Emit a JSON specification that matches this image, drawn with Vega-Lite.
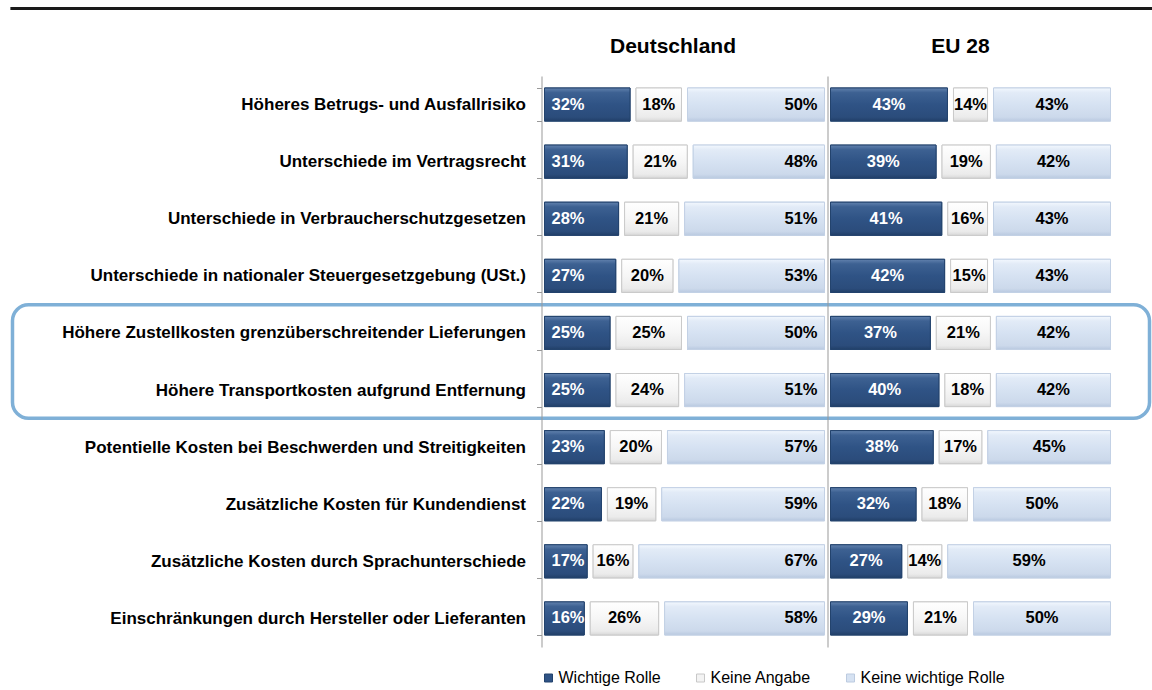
{
  "$schema": "https://vega.github.io/schema/vega-lite/v6.json",
  "padding": {"left": 8.5, "top": 7, "right": 0, "bottom": 0},
  "bounds": "flush",
  "spacing": 0,
  "background": "white",
  "config": {
    "view": {"stroke": null},
    "font": "Liberation Sans",
    "legend": {
      "orient": "none",
      "legendX": -1,
      "legendY": 594,
      "direction": "horizontal",
      "symbolType": "square",
      "symbolSize": 64,
      "symbolStrokeWidth": 1,
      "labelFontSize": 16,
      "labelFont": "Liberation Sans",
      "labelColor": "#000",
      "columnPadding": 31,
      "labelOffset": 2,
      "padding": 0
    }
  },
  "data": {
    "values": [
      {"Kategorie": "Höheres Betrugs- und Ausfallrisiko", "Region": "Deutschland", "Antwort": "Wichtige Rolle", "Rang": 1, "Wert": 0.32},
      {"Kategorie": "Höheres Betrugs- und Ausfallrisiko", "Region": "Deutschland", "Antwort": "Keine Angabe", "Rang": 2, "Wert": 0.18},
      {"Kategorie": "Höheres Betrugs- und Ausfallrisiko", "Region": "Deutschland", "Antwort": "Keine wichtige Rolle", "Rang": 3, "Wert": 0.50},
      {"Kategorie": "Unterschiede im Vertragsrecht", "Region": "Deutschland", "Antwort": "Wichtige Rolle", "Rang": 1, "Wert": 0.31},
      {"Kategorie": "Unterschiede im Vertragsrecht", "Region": "Deutschland", "Antwort": "Keine Angabe", "Rang": 2, "Wert": 0.21},
      {"Kategorie": "Unterschiede im Vertragsrecht", "Region": "Deutschland", "Antwort": "Keine wichtige Rolle", "Rang": 3, "Wert": 0.48},
      {"Kategorie": "Unterschiede in Verbraucherschutzgesetzen", "Region": "Deutschland", "Antwort": "Wichtige Rolle", "Rang": 1, "Wert": 0.28},
      {"Kategorie": "Unterschiede in Verbraucherschutzgesetzen", "Region": "Deutschland", "Antwort": "Keine Angabe", "Rang": 2, "Wert": 0.21},
      {"Kategorie": "Unterschiede in Verbraucherschutzgesetzen", "Region": "Deutschland", "Antwort": "Keine wichtige Rolle", "Rang": 3, "Wert": 0.51},
      {"Kategorie": "Unterschiede in nationaler Steuergesetzgebung (USt.)", "Region": "Deutschland", "Antwort": "Wichtige Rolle", "Rang": 1, "Wert": 0.27},
      {"Kategorie": "Unterschiede in nationaler Steuergesetzgebung (USt.)", "Region": "Deutschland", "Antwort": "Keine Angabe", "Rang": 2, "Wert": 0.20},
      {"Kategorie": "Unterschiede in nationaler Steuergesetzgebung (USt.)", "Region": "Deutschland", "Antwort": "Keine wichtige Rolle", "Rang": 3, "Wert": 0.53},
      {"Kategorie": "Höhere Zustellkosten grenzüberschreitender Lieferungen", "Region": "Deutschland", "Antwort": "Wichtige Rolle", "Rang": 1, "Wert": 0.25},
      {"Kategorie": "Höhere Zustellkosten grenzüberschreitender Lieferungen", "Region": "Deutschland", "Antwort": "Keine Angabe", "Rang": 2, "Wert": 0.25},
      {"Kategorie": "Höhere Zustellkosten grenzüberschreitender Lieferungen", "Region": "Deutschland", "Antwort": "Keine wichtige Rolle", "Rang": 3, "Wert": 0.50},
      {"Kategorie": "Höhere Transportkosten aufgrund Entfernung", "Region": "Deutschland", "Antwort": "Wichtige Rolle", "Rang": 1, "Wert": 0.25},
      {"Kategorie": "Höhere Transportkosten aufgrund Entfernung", "Region": "Deutschland", "Antwort": "Keine Angabe", "Rang": 2, "Wert": 0.24},
      {"Kategorie": "Höhere Transportkosten aufgrund Entfernung", "Region": "Deutschland", "Antwort": "Keine wichtige Rolle", "Rang": 3, "Wert": 0.51},
      {"Kategorie": "Potentielle Kosten bei Beschwerden und Streitigkeiten", "Region": "Deutschland", "Antwort": "Wichtige Rolle", "Rang": 1, "Wert": 0.23},
      {"Kategorie": "Potentielle Kosten bei Beschwerden und Streitigkeiten", "Region": "Deutschland", "Antwort": "Keine Angabe", "Rang": 2, "Wert": 0.20},
      {"Kategorie": "Potentielle Kosten bei Beschwerden und Streitigkeiten", "Region": "Deutschland", "Antwort": "Keine wichtige Rolle", "Rang": 3, "Wert": 0.57},
      {"Kategorie": "Zusätzliche Kosten für Kundendienst", "Region": "Deutschland", "Antwort": "Wichtige Rolle", "Rang": 1, "Wert": 0.22},
      {"Kategorie": "Zusätzliche Kosten für Kundendienst", "Region": "Deutschland", "Antwort": "Keine Angabe", "Rang": 2, "Wert": 0.19},
      {"Kategorie": "Zusätzliche Kosten für Kundendienst", "Region": "Deutschland", "Antwort": "Keine wichtige Rolle", "Rang": 3, "Wert": 0.59},
      {"Kategorie": "Zusätzliche Kosten durch Sprachunterschiede", "Region": "Deutschland", "Antwort": "Wichtige Rolle", "Rang": 1, "Wert": 0.17},
      {"Kategorie": "Zusätzliche Kosten durch Sprachunterschiede", "Region": "Deutschland", "Antwort": "Keine Angabe", "Rang": 2, "Wert": 0.16},
      {"Kategorie": "Zusätzliche Kosten durch Sprachunterschiede", "Region": "Deutschland", "Antwort": "Keine wichtige Rolle", "Rang": 3, "Wert": 0.67},
      {"Kategorie": "Einschränkungen durch Hersteller oder Lieferanten", "Region": "Deutschland", "Antwort": "Wichtige Rolle", "Rang": 1, "Wert": 0.16},
      {"Kategorie": "Einschränkungen durch Hersteller oder Lieferanten", "Region": "Deutschland", "Antwort": "Keine Angabe", "Rang": 2, "Wert": 0.26},
      {"Kategorie": "Einschränkungen durch Hersteller oder Lieferanten", "Region": "Deutschland", "Antwort": "Keine wichtige Rolle", "Rang": 3, "Wert": 0.58},
      {"Kategorie": "Höheres Betrugs- und Ausfallrisiko", "Region": "EU 28", "Antwort": "Wichtige Rolle", "Rang": 1, "Wert": 0.43},
      {"Kategorie": "Höheres Betrugs- und Ausfallrisiko", "Region": "EU 28", "Antwort": "Keine Angabe", "Rang": 2, "Wert": 0.14},
      {"Kategorie": "Höheres Betrugs- und Ausfallrisiko", "Region": "EU 28", "Antwort": "Keine wichtige Rolle", "Rang": 3, "Wert": 0.43},
      {"Kategorie": "Unterschiede im Vertragsrecht", "Region": "EU 28", "Antwort": "Wichtige Rolle", "Rang": 1, "Wert": 0.39},
      {"Kategorie": "Unterschiede im Vertragsrecht", "Region": "EU 28", "Antwort": "Keine Angabe", "Rang": 2, "Wert": 0.19},
      {"Kategorie": "Unterschiede im Vertragsrecht", "Region": "EU 28", "Antwort": "Keine wichtige Rolle", "Rang": 3, "Wert": 0.42},
      {"Kategorie": "Unterschiede in Verbraucherschutzgesetzen", "Region": "EU 28", "Antwort": "Wichtige Rolle", "Rang": 1, "Wert": 0.41},
      {"Kategorie": "Unterschiede in Verbraucherschutzgesetzen", "Region": "EU 28", "Antwort": "Keine Angabe", "Rang": 2, "Wert": 0.16},
      {"Kategorie": "Unterschiede in Verbraucherschutzgesetzen", "Region": "EU 28", "Antwort": "Keine wichtige Rolle", "Rang": 3, "Wert": 0.43},
      {"Kategorie": "Unterschiede in nationaler Steuergesetzgebung (USt.)", "Region": "EU 28", "Antwort": "Wichtige Rolle", "Rang": 1, "Wert": 0.42},
      {"Kategorie": "Unterschiede in nationaler Steuergesetzgebung (USt.)", "Region": "EU 28", "Antwort": "Keine Angabe", "Rang": 2, "Wert": 0.15},
      {"Kategorie": "Unterschiede in nationaler Steuergesetzgebung (USt.)", "Region": "EU 28", "Antwort": "Keine wichtige Rolle", "Rang": 3, "Wert": 0.43},
      {"Kategorie": "Höhere Zustellkosten grenzüberschreitender Lieferungen", "Region": "EU 28", "Antwort": "Wichtige Rolle", "Rang": 1, "Wert": 0.37},
      {"Kategorie": "Höhere Zustellkosten grenzüberschreitender Lieferungen", "Region": "EU 28", "Antwort": "Keine Angabe", "Rang": 2, "Wert": 0.21},
      {"Kategorie": "Höhere Zustellkosten grenzüberschreitender Lieferungen", "Region": "EU 28", "Antwort": "Keine wichtige Rolle", "Rang": 3, "Wert": 0.42},
      {"Kategorie": "Höhere Transportkosten aufgrund Entfernung", "Region": "EU 28", "Antwort": "Wichtige Rolle", "Rang": 1, "Wert": 0.40},
      {"Kategorie": "Höhere Transportkosten aufgrund Entfernung", "Region": "EU 28", "Antwort": "Keine Angabe", "Rang": 2, "Wert": 0.18},
      {"Kategorie": "Höhere Transportkosten aufgrund Entfernung", "Region": "EU 28", "Antwort": "Keine wichtige Rolle", "Rang": 3, "Wert": 0.42},
      {"Kategorie": "Potentielle Kosten bei Beschwerden und Streitigkeiten", "Region": "EU 28", "Antwort": "Wichtige Rolle", "Rang": 1, "Wert": 0.38},
      {"Kategorie": "Potentielle Kosten bei Beschwerden und Streitigkeiten", "Region": "EU 28", "Antwort": "Keine Angabe", "Rang": 2, "Wert": 0.17},
      {"Kategorie": "Potentielle Kosten bei Beschwerden und Streitigkeiten", "Region": "EU 28", "Antwort": "Keine wichtige Rolle", "Rang": 3, "Wert": 0.45},
      {"Kategorie": "Zusätzliche Kosten für Kundendienst", "Region": "EU 28", "Antwort": "Wichtige Rolle", "Rang": 1, "Wert": 0.32},
      {"Kategorie": "Zusätzliche Kosten für Kundendienst", "Region": "EU 28", "Antwort": "Keine Angabe", "Rang": 2, "Wert": 0.18},
      {"Kategorie": "Zusätzliche Kosten für Kundendienst", "Region": "EU 28", "Antwort": "Keine wichtige Rolle", "Rang": 3, "Wert": 0.50},
      {"Kategorie": "Zusätzliche Kosten durch Sprachunterschiede", "Region": "EU 28", "Antwort": "Wichtige Rolle", "Rang": 1, "Wert": 0.27},
      {"Kategorie": "Zusätzliche Kosten durch Sprachunterschiede", "Region": "EU 28", "Antwort": "Keine Angabe", "Rang": 2, "Wert": 0.14},
      {"Kategorie": "Zusätzliche Kosten durch Sprachunterschiede", "Region": "EU 28", "Antwort": "Keine wichtige Rolle", "Rang": 3, "Wert": 0.59},
      {"Kategorie": "Einschränkungen durch Hersteller oder Lieferanten", "Region": "EU 28", "Antwort": "Wichtige Rolle", "Rang": 1, "Wert": 0.29},
      {"Kategorie": "Einschränkungen durch Hersteller oder Lieferanten", "Region": "EU 28", "Antwort": "Keine Angabe", "Rang": 2, "Wert": 0.21},
      {"Kategorie": "Einschränkungen durch Hersteller oder Lieferanten", "Region": "EU 28", "Antwort": "Keine wichtige Rolle", "Rang": 3, "Wert": 0.50}
    ]
  },
  "hconcat": [
    {
      "width": 286,
      "height": 571,
      "layer": [
        {
          "data": {"values": [{}]},
          "mark": {"type": "rect", "fillOpacity": 0, "stroke": "#7FB0D7", "strokeWidth": 3.5, "cornerRadius": 16},
          "encoding": {
            "x": {"datum": -1.8497, "type": "quantitative", "scale": {"domain": [0, 1]}},
            "x2": {"datum": 2.1259},
            "y": {"datum": "Höhere Zustellkosten grenzüberschreitender Lieferungen", "type": "nominal", "bandPosition": -0.35, "title": null},
            "y2": {"datum": "Höhere Transportkosten aufgrund Entfernung", "bandPosition": 1.35}
          }
        },
        {
          "data": {"values": [{}]},
          "mark": {"type": "rule", "stroke": "#1a1a1a", "strokeWidth": 3},
          "encoding": {
            "x": {"datum": -1.857, "type": "quantitative", "scale": {"domain": [0, 1]}},
            "x2": {"datum": 2.2},
            "y": {"datum": "Höheres Betrugs- und Ausfallrisiko", "type": "nominal", "bandPosition": -2.4, "title": null}
          }
        },
        {
          "transform": [
            {"filter": {"field": "Region", "equal": "Deutschland"}},
            {"stack": "Wert", "groupby": ["Kategorie"], "sort": [{"field": "Rang", "order": "ascending"}], "as": ["x0", "x1"]}
          ],
          "layer": [
            {
              "mark": {"type": "bar", "xOffset": 3, "x2Offset": -3, "strokeWidth": 1},
              "encoding": {
                "x": {
                  "field": "x0", "type": "quantitative", "scale": {"domain": [0, 1]},
                  "axis": {"orient": "top", "title": "Deutschland", "labels": false, "ticks": false, "domain": false, "grid": false, "titleFontSize": 21, "titleFont": "Liberation Sans", "titleFontWeight": "bold", "titleColor": "#000", "titlePadding": 20, "titleX": 131, "minExtent": 0, "maxExtent": 0}
                },
                "x2": {"field": "x1"},
                "y": {
                  "field": "Kategorie", "type": "nominal", "title": null,
                  "scale": {
                    "domain": ["Höheres Betrugs- und Ausfallrisiko", "Unterschiede im Vertragsrecht", "Unterschiede in Verbraucherschutzgesetzen", "Unterschiede in nationaler Steuergesetzgebung (USt.)", "Höhere Zustellkosten grenzüberschreitender Lieferungen", "Höhere Transportkosten aufgrund Entfernung", "Potentielle Kosten bei Beschwerden und Streitigkeiten", "Zusätzliche Kosten für Kundendienst", "Zusätzliche Kosten durch Sprachunterschiede", "Einschränkungen durch Hersteller oder Lieferanten"],
                    "paddingInner": 0.42, "paddingOuter": 0.21
                  },
                  "axis": {"labelFontSize": 17, "labelFontWeight": "bold", "labelFont": "Liberation Sans", "labelColor": "#000", "labelPadding": 11, "labelLimit": 700, "tickBand": "extent", "tickSize": 5, "tickColor": "#999", "domainColor": "#999", "grid": false}
                },
                "color": {
                  "field": "Antwort", "type": "nominal", "title": null,
                  "scale": {"domain": ["Wichtige Rolle", "Keine Angabe", "Keine wichtige Rolle"], "range": ["#2F5385", "#F3F3F3", "#D6E2F2"]}
                },
                "stroke": {
                  "field": "Antwort", "type": "nominal", "title": null,
                  "scale": {"domain": ["Wichtige Rolle", "Keine Angabe", "Keine wichtige Rolle"], "range": ["#23436D", "#C8C8C8", "#BCCBE0"]}
                }
              }
            },
            {
              "transform": [{"filter": {"field": "Antwort", "equal": "Wichtige Rolle"}}],
              "mark": {"type": "bar", "xOffset": 3, "x2Offset": -3, "strokeWidth": 1, "stroke": "#23436D", "fill": {"gradient": "linear", "x1": 0, "y1": 0, "x2": 0, "y2": 1, "stops": [{"offset": 0, "color": "#6282AE"}, {"offset": 0.14, "color": "#3D6192"}, {"offset": 0.5, "color": "#2F5385"}, {"offset": 0.88, "color": "#2B4C7B"}, {"offset": 1, "color": "#213F68"}]}},
              "encoding": {
                "x": {"field": "x0", "type": "quantitative", "scale": {"domain": [0, 1]}},
                "x2": {"field": "x1"},
                "y": {"field": "Kategorie", "type": "nominal", "title": null}
              }
            },
            {
              "transform": [{"filter": {"field": "Antwort", "equal": "Keine Angabe"}}],
              "mark": {"type": "bar", "xOffset": 3, "x2Offset": -3, "strokeWidth": 1, "stroke": "#CACACA", "fill": {"gradient": "linear", "x1": 0, "y1": 0, "x2": 0, "y2": 1, "stops": [{"offset": 0, "color": "#FFFFFF"}, {"offset": 0.5, "color": "#F6F6F6"}, {"offset": 0.88, "color": "#EBEBEB"}, {"offset": 1, "color": "#D8D8D8"}]}},
              "encoding": {
                "x": {"field": "x0", "type": "quantitative", "scale": {"domain": [0, 1]}},
                "x2": {"field": "x1"},
                "y": {"field": "Kategorie", "type": "nominal", "title": null}
              }
            },
            {
              "transform": [{"filter": {"field": "Antwort", "equal": "Keine wichtige Rolle"}}],
              "mark": {"type": "bar", "xOffset": 3, "x2Offset": -3, "strokeWidth": 1, "stroke": "#C3D1E5", "fill": {"gradient": "linear", "x1": 0, "y1": 0, "x2": 0, "y2": 1, "stops": [{"offset": 0, "color": "#F3F8FE"}, {"offset": 0.14, "color": "#E2EBF7"}, {"offset": 0.5, "color": "#D6E2F2"}, {"offset": 0.88, "color": "#CCD9EB"}, {"offset": 1, "color": "#B9C9E0"}]}},
              "encoding": {
                "x": {"field": "x0", "type": "quantitative", "scale": {"domain": [0, 1]}},
                "x2": {"field": "x1"},
                "y": {"field": "Kategorie", "type": "nominal", "title": null}
              }
            },
            {
              "transform": [{"filter": {"field": "Antwort", "equal": "Wichtige Rolle"}}],
              "mark": {"type": "text", "align": "left", "baseline": "middle", "dx": 10, "fontSize": 16.5, "fontWeight": "bold", "font": "Liberation Sans", "fill": "white"},
              "encoding": {
                "x": {"field": "x0", "type": "quantitative", "scale": {"domain": [0, 1]}},
                "y": {"field": "Kategorie", "type": "nominal", "title": null},
                "text": {"field": "Wert", "type": "quantitative", "format": ".0%"}
              }
            },
            {
              "transform": [
                {"filter": {"field": "Antwort", "equal": "Keine Angabe"}},
                {"fold": ["x0", "x1"], "as": ["Kante", "Pos"]},
                {"aggregate": [{"op": "mean", "field": "Pos", "as": "Mitte"}], "groupby": ["Kategorie", "Antwort", "Wert"]}
              ],
              "mark": {"type": "text", "align": "center", "baseline": "middle", "fontSize": 16.5, "fontWeight": "bold", "font": "Liberation Sans", "fill": "#000"},
              "encoding": {
                "x": {"field": "Mitte", "type": "quantitative", "scale": {"domain": [0, 1]}},
                "y": {"field": "Kategorie", "type": "nominal", "title": null},
                "text": {"field": "Wert", "type": "quantitative", "format": ".0%"}
              }
            },
            {
              "transform": [{"filter": {"field": "Antwort", "equal": "Keine wichtige Rolle"}}],
              "mark": {"type": "text", "align": "right", "baseline": "middle", "dx": -10, "fontSize": 16.5, "fontWeight": "bold", "font": "Liberation Sans", "fill": "#000"},
              "encoding": {
                "x": {"field": "x1", "type": "quantitative", "scale": {"domain": [0, 1]}},
                "y": {"field": "Kategorie", "type": "nominal", "title": null},
                "text": {"field": "Wert", "type": "quantitative", "format": ".0%"}
              }
            }
          ]
        }
      ]
    },
    {
      "width": 286,
      "height": 571,
      "transform": [
        {"filter": {"field": "Region", "equal": "EU 28"}},
        {"stack": "Wert", "groupby": ["Kategorie"], "sort": [{"field": "Rang", "order": "ascending"}], "as": ["x0", "x1"]}
      ],
      "layer": [
        {
          "mark": {"type": "bar", "xOffset": 3, "x2Offset": -3, "strokeWidth": 1},
          "encoding": {
            "x": {
              "field": "x0", "type": "quantitative", "scale": {"domain": [0, 1]},
              "axis": {"orient": "top", "title": "EU 28", "labels": false, "ticks": false, "domain": false, "grid": false, "titleFontSize": 21, "titleFont": "Liberation Sans", "titleFontWeight": "bold", "titleColor": "#000", "titlePadding": 20, "titleX": 132.5, "minExtent": 0, "maxExtent": 0}
            },
            "x2": {"field": "x1"},
            "y": {
              "field": "Kategorie", "type": "nominal", "title": null,
              "scale": {
                "domain": ["Höheres Betrugs- und Ausfallrisiko", "Unterschiede im Vertragsrecht", "Unterschiede in Verbraucherschutzgesetzen", "Unterschiede in nationaler Steuergesetzgebung (USt.)", "Höhere Zustellkosten grenzüberschreitender Lieferungen", "Höhere Transportkosten aufgrund Entfernung", "Potentielle Kosten bei Beschwerden und Streitigkeiten", "Zusätzliche Kosten für Kundendienst", "Zusätzliche Kosten durch Sprachunterschiede", "Einschränkungen durch Hersteller oder Lieferanten"],
                "paddingInner": 0.42, "paddingOuter": 0.21
              },
              "axis": {"labels": false, "ticks": false, "domainColor": "#999", "grid": false}
            },
            "color": {
              "field": "Antwort", "type": "nominal", "title": null,
              "scale": {"domain": ["Wichtige Rolle", "Keine Angabe", "Keine wichtige Rolle"], "range": ["#2F5385", "#F3F3F3", "#D6E2F2"]}
            },
            "stroke": {
              "field": "Antwort", "type": "nominal", "title": null,
              "scale": {"domain": ["Wichtige Rolle", "Keine Angabe", "Keine wichtige Rolle"], "range": ["#23436D", "#C8C8C8", "#BCCBE0"]}
            }
          }
        },
        {
          "transform": [{"filter": {"field": "Antwort", "equal": "Wichtige Rolle"}}],
          "mark": {"type": "bar", "xOffset": 3, "x2Offset": -3, "strokeWidth": 1, "stroke": "#23436D", "fill": {"gradient": "linear", "x1": 0, "y1": 0, "x2": 0, "y2": 1, "stops": [{"offset": 0, "color": "#6282AE"}, {"offset": 0.14, "color": "#3D6192"}, {"offset": 0.5, "color": "#2F5385"}, {"offset": 0.88, "color": "#2B4C7B"}, {"offset": 1, "color": "#213F68"}]}},
          "encoding": {
            "x": {"field": "x0", "type": "quantitative", "scale": {"domain": [0, 1]}},
            "x2": {"field": "x1"},
            "y": {"field": "Kategorie", "type": "nominal", "title": null}
          }
        },
        {
          "transform": [{"filter": {"field": "Antwort", "equal": "Keine Angabe"}}],
          "mark": {"type": "bar", "xOffset": 3, "x2Offset": -3, "strokeWidth": 1, "stroke": "#CACACA", "fill": {"gradient": "linear", "x1": 0, "y1": 0, "x2": 0, "y2": 1, "stops": [{"offset": 0, "color": "#FFFFFF"}, {"offset": 0.5, "color": "#F6F6F6"}, {"offset": 0.88, "color": "#EBEBEB"}, {"offset": 1, "color": "#D8D8D8"}]}},
          "encoding": {
            "x": {"field": "x0", "type": "quantitative", "scale": {"domain": [0, 1]}},
            "x2": {"field": "x1"},
            "y": {"field": "Kategorie", "type": "nominal", "title": null}
          }
        },
        {
          "transform": [{"filter": {"field": "Antwort", "equal": "Keine wichtige Rolle"}}],
          "mark": {"type": "bar", "xOffset": 3, "x2Offset": -3, "strokeWidth": 1, "stroke": "#C3D1E5", "fill": {"gradient": "linear", "x1": 0, "y1": 0, "x2": 0, "y2": 1, "stops": [{"offset": 0, "color": "#F3F8FE"}, {"offset": 0.14, "color": "#E2EBF7"}, {"offset": 0.5, "color": "#D6E2F2"}, {"offset": 0.88, "color": "#CCD9EB"}, {"offset": 1, "color": "#B9C9E0"}]}},
          "encoding": {
            "x": {"field": "x0", "type": "quantitative", "scale": {"domain": [0, 1]}},
            "x2": {"field": "x1"},
            "y": {"field": "Kategorie", "type": "nominal", "title": null}
          }
        },
        {
          "transform": [
            {"filter": {"field": "Antwort", "equal": "Wichtige Rolle"}},
            {"fold": ["x0", "x1"], "as": ["Kante", "Pos"]},
            {"aggregate": [{"op": "mean", "field": "Pos", "as": "Mitte"}], "groupby": ["Kategorie", "Antwort", "Wert"]}
          ],
          "mark": {"type": "text", "align": "center", "baseline": "middle", "fontSize": 16.5, "fontWeight": "bold", "font": "Liberation Sans", "fill": "white"},
          "encoding": {
            "x": {"field": "Mitte", "type": "quantitative", "scale": {"domain": [0, 1]}},
            "y": {"field": "Kategorie", "type": "nominal", "title": null},
            "text": {"field": "Wert", "type": "quantitative", "format": ".0%"}
          }
        },
        {
          "transform": [
            {"filter": {"field": "Antwort", "oneOf": ["Keine Angabe", "Keine wichtige Rolle"]}},
            {"fold": ["x0", "x1"], "as": ["Kante", "Pos"]},
            {"aggregate": [{"op": "mean", "field": "Pos", "as": "Mitte"}], "groupby": ["Kategorie", "Antwort", "Wert"]}
          ],
          "mark": {"type": "text", "align": "center", "baseline": "middle", "fontSize": 16.5, "fontWeight": "bold", "font": "Liberation Sans", "fill": "#000"},
          "encoding": {
            "x": {"field": "Mitte", "type": "quantitative", "scale": {"domain": [0, 1]}},
            "y": {"field": "Kategorie", "type": "nominal", "title": null},
            "text": {"field": "Wert", "type": "quantitative", "format": ".0%"}
          }
        }
      ]
    }
  ]
}
